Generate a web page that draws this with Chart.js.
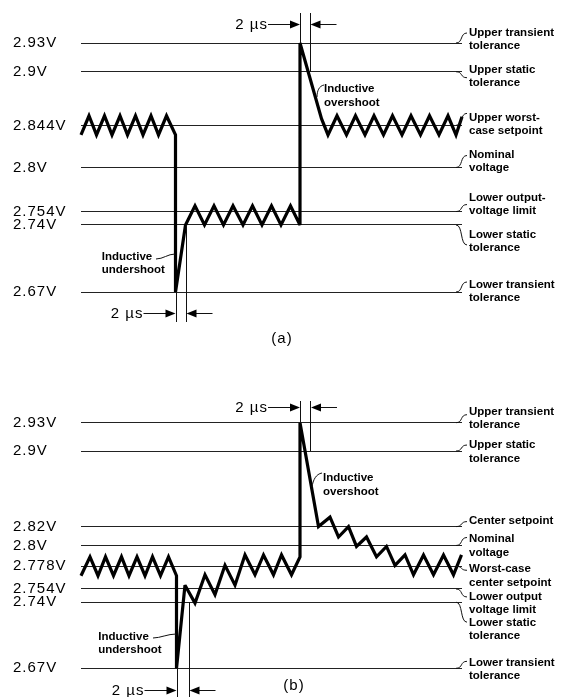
<!DOCTYPE html>
<html>
<head>
<meta charset="utf-8">
<script src="https://cdn.jsdelivr.net/npm/chart.js"></script>
<style>
body{margin:0;background:#fff;}
#wrap{position:relative;width:561px;height:697px;background:#fff;}
canvas{position:absolute;left:0;}
</style>
</head>
<body>
<div id="wrap">
  <canvas id="chartA" width="561" height="370" style="top:0"></canvas>
  <canvas id="chartB" width="561" height="327" style="top:370px"></canvas>
</div>
<script>
// panel (a): niveles (V) y forma de onda, tiempo en us
var ticksA = [2.93, 2.9, 2.844, 2.8, 2.754, 2.74, 2.67];
var namesA = ['Upper transient\ntolerance', 'Upper static\ntolerance', 'Upper worst-\ncase setpoint',
              'Nominal\nvoltage', 'Lower output-\nvoltage limit', 'Lower static\ntolerance', 'Lower transient\ntolerance'];
var timeA = [0, 1.6, 3.1, 4.7, 6.2, 7.8, 9.3, 10.9, 12.4, 14.0, 15.5, 17.1,
             18.9, 18.9, 20.9,
             22.8, 24.7, 26.6, 28.5, 30.4, 32.4, 34.3, 36.2, 38.1, 40.0, 41.9, 43.8,
             43.8, 48.1, 49.4,
             51.2, 53.1, 54.9, 56.8, 58.6, 60.5, 62.3, 64.2, 66.0, 67.9, 69.7, 71.6, 73.4, 75.0, 76.2];
var voltA = [2.834, 2.854, 2.834, 2.854, 2.834, 2.854, 2.834, 2.854, 2.834, 2.854, 2.834, 2.854,
             2.834, 2.67, 2.74,
             2.76, 2.74, 2.76, 2.74, 2.76, 2.74, 2.76, 2.74, 2.76, 2.74, 2.76, 2.74,
             2.93, 2.851, 2.834,
             2.854, 2.834, 2.854, 2.834, 2.854, 2.834, 2.854, 2.834, 2.854, 2.834, 2.854, 2.834, 2.854, 2.834, 2.853];
var spansA = [[18.9, 20.9], [43.8, 45.7]];

// panel (b)
var ticksB = [2.93, 2.9, 2.82, 2.8, 2.778, 2.754, 2.74, 2.67];
var namesB = ['Upper transient\ntolerance', 'Upper static\ntolerance', 'Center setpoint', 'Nominal\nvoltage',
              'Worst-case\ncenter setpoint', 'Lower output\nvoltage limit', 'Lower static\ntolerance', 'Lower transient\ntolerance'];
var timeB = [0, 1.8, 3.4, 4.9, 6.5, 8.1, 9.6, 11.2, 12.8, 14.3, 15.9, 17.5,
             19.1, 19.1, 20.8,
             22.8, 24.8, 26.8, 28.8, 30.8, 32.8, 34.8, 36.5, 38.5, 40.1, 42.1, 43.8,
             43.8, 47.5,
             49.8, 51.5, 53.5, 55.1, 57.1, 59.1, 61.1, 62.8, 64.8, 66.5, 68.5, 70.5, 72.5, 74.5, 76.1];
var voltB = [2.768, 2.788, 2.768, 2.788, 2.768, 2.788, 2.768, 2.788, 2.768, 2.788, 2.768, 2.788,
             2.768, 2.67, 2.758,
             2.739, 2.769, 2.748, 2.779, 2.758, 2.790, 2.769, 2.790, 2.769, 2.790, 2.769, 2.788,
             2.93, 2.820,
             2.830, 2.809, 2.820, 2.799, 2.809, 2.788, 2.799, 2.779, 2.790, 2.769, 2.790, 2.769, 2.790, 2.769, 2.790];
var spansB = [[19.1, 21.5], [43.8, 45.8]];

var FAM = '"Liberation Sans", Arial, sans-serif';

function vline(ctx, x, y0, y1){
  x = Math.round(x) + 0.5;
  ctx.beginPath(); ctx.moveTo(x, y0); ctx.lineTo(x, y1); ctx.stroke();
}

function arrow(ctx, tail, tip, y){
  var d = tip > tail ? 1 : -1;
  y = Math.round(y) + 0.5;
  ctx.beginPath(); ctx.moveTo(tail, y); ctx.lineTo(tip - d * 8, y); ctx.stroke();
  ctx.beginPath();
  ctx.moveTo(tip, y); ctx.lineTo(tip - d * 10, y - 4); ctx.lineTo(tip - d * 10, y + 4);
  ctx.closePath(); ctx.fill();
}

/*
* plugin: nombres de niveles a la derecha, rotulos "Inductive", cotas de 2 us y (a)/(b)
*/
var marcas = {
  id: 'marcas',
  beforeDraw: function(chart){ chart.ctx.letterSpacing = '1px'; },
  beforeDatasetsDraw: function(chart){ chart.ctx.miterLimit = 3; },
  afterDraw: function(chart, args, o){
    var ctx = chart.ctx, ca = chart.chartArea, x = chart.scales.x, y = chart.scales.y;
    ctx.save();
    ctx.fillStyle = '#000'; ctx.strokeStyle = '#111'; ctx.lineWidth = 1;
    ctx.textBaseline = 'middle'; ctx.textAlign = 'left';
    ctx.font = 'bold 11.5px ' + FAM;
    ctx.letterSpacing = '0px';
    o.ticks.forEach(function(v, i){
      var ly = y.getPixelForValue(v), p = o.place[i];
      o.names[i].split('\n').forEach(function(s, k){ ctx.fillText(s, 469, ly + p[0] + k * 13.3); });
      var x0 = ca.right - 6, x1 = 467, y1 = ly + p[1];
      ctx.beginPath(); ctx.moveTo(x0, ly); ctx.bezierCurveTo(x0 + 7, ly, x1 - 7, y1, x1, y1); ctx.stroke();
    });
    o.notes.forEach(function(n){
      n.text.forEach(function(s, k){ ctx.fillText(s, n.x, n.y + k * 13.3); });
      var l = n.lead;
      ctx.beginPath(); ctx.moveTo(l[0], l[1]); ctx.bezierCurveTo(l[2], l[3], l[4], l[5], l[6], l[7]); ctx.stroke();
    });
    // cotas 2 us
    ctx.font = '15px ' + FAM;
    ctx.letterSpacing = '1px';
    o.spans.forEach(function(s, i){
      var g = o.geo[i];
      var xa = x.getPixelForValue(s[0]), xb = x.getPixelForValue(s[1]);
      vline(ctx, xa, y.getPixelForValue(g.from[0]), g.to);
      vline(ctx, xb, y.getPixelForValue(g.from[1]), g.to);
      arrow(ctx, xa - 32, xa, g.ay);
      arrow(ctx, xb + 27, xb + 1, g.ay);
      ctx.textAlign = 'right';
      ctx.fillText('2 \u00b5s', xa - 32, g.ay + 1);
    });
    ctx.textAlign = 'center'; ctx.letterSpacing = '1px';
    ctx.fillText(o.panel, o.panelAt[0], o.panelAt[1]);
    ctx.restore();
  }
};

function showchart(id, ticks, time, volt, pad, extra){
  var pts = time.map(function(t, i){ return {x: t, y: volt[i]}; });
  return new Chart(document.getElementById(id), {
    type: 'line',
    data: {
      datasets: [{
        data: pts,
        borderColor: '#000',
        borderWidth: 3.2,
        pointRadius: 0,
        tension: 0,
        fill: false,
        clip: false
      }]
    },
    options: {
      responsive: false,
      animation: false,
      layout: {padding: pad},
      plugins: {legend: {display: false}, tooltip: {enabled: false}, marcas: extra},
      scales: {
        x: {type: 'linear', display: false, min: 0, max: 76.2},
        y: {
          min: ticks[ticks.length - 1], max: ticks[0],
          afterBuildTicks: function(s){ s.ticks = ticks.map(function(v){ return {value: v}; }); },
          afterFit: function(s){ s.width = 68; },
          ticks: {
            autoSkip: false, crossAlign: 'far', color: '#000',
            font: {family: FAM, size: 15},
            callback: function(v){ return v + 'V'; }
          },
          grid: {color: '#222', lineWidth: 1, drawTicks: false},
          border: {display: false}
        }
      }
    },
    plugins: [marcas]
  });
}

showchart('chartA', ticksA, timeA, voltA, {left: 13, right: 99, top: 43, bottom: 78}, {
  ticks: ticksA, names: namesA,
  place: [[-10, -10], [-2, 6], [-8, -12], [-12.5, -12], [-13.6, -7], [10, 20], [-7, -10]],
  notes: [
    {text: ['Inductive', 'undershoot'], x: 101.7, y: 256.7, lead: [156, 259, 163, 259, 168, 254, 175, 254]},
    {text: ['Inductive', 'overshoot'], x: 324, y: 89.3, lead: [324, 85, 319, 86, 317, 91, 317, 97]}
  ],
  spans: spansA,
  geo: [{from: [2.67, 2.74], to: 322, ay: 313}, {from: [2.93, 2.9], to: 13, ay: 24}],
  panel: '(a)', panelAt: [282, 339]
});

showchart('chartB', ticksB, timeB, voltB, {left: 13, right: 99, top: 52.7, bottom: 28.7}, {
  ticks: ticksB, names: namesB,
  place: [[-11, -8], [-6, -6], [-5.6, -5], [-6.2, -8], [3, 4], [7.7, 8], [20.5, 20], [-5.6, -7]],
  notes: [
    {text: ['Inductive', 'undershoot'], x: 98.3, y: 266.7, lead: [153, 268, 160, 268, 168, 264, 176, 264]},
    {text: ['Inductive', 'overshoot'], x: 323, y: 108.3, lead: [322, 103, 316, 104, 313, 110, 312, 117]}
  ],
  spans: spansB,
  geo: [{from: [2.67, 2.74], to: 327, ay: 320}, {from: [2.93, 2.9], to: 31, ay: 36.7}],
  panel: '(b)', panelAt: [294, 316]
});
</script>
</body>
</html>
